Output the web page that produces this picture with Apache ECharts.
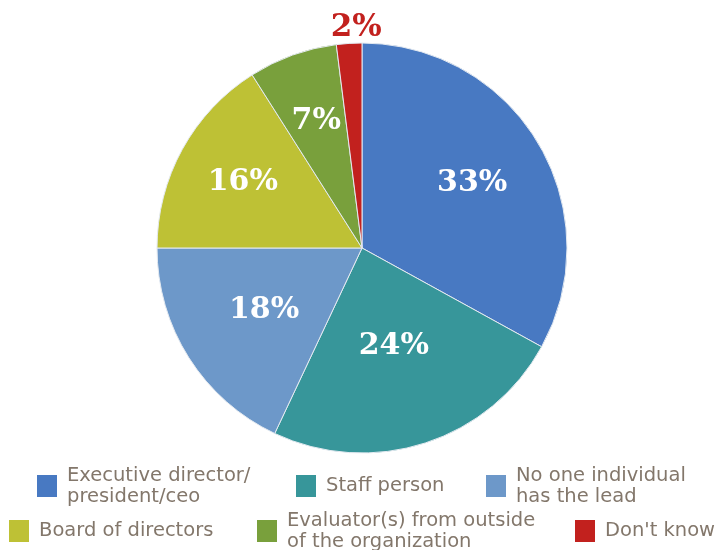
<!DOCTYPE html>
<html>
<head>
<meta charset="utf-8">
<script src="https://cdn.jsdelivr.net/npm/echarts@6/dist/echarts.min.js"></script>
<style>html,body{margin:0;padding:0;background:#fff}#c{width:715px;height:550px}</style>
</head>
<body>
<div id="c"></div>
<script>
const categories = ['Executive director/president/ceo', 'Staff person', 'No one individual has the lead', 'Board of directors', 'Evaluator(s) from outside of the organization', "Don't know"];
const legendLabels = ['Executive director/\npresident/ceo', 'Staff person', 'No one individual\nhas the lead', 'Board of directors', 'Evaluator(s) from outside\nof the organization', "Don't know"];
const values = [33, 24, 18, 16, 7, 2];
const colors = ['#4879c2', '#37969a', '#6d98c9', '#bec135', '#79a03c', '#c2211e'];

// style: radial distance of each percentage label from the pie centre (px)
const labelDist = [125, 100, 113, 133, 132, 217];
const labelOutside = [false, false, false, false, false, true];

const chart = echarts.init(document.getElementById('c'), null, {renderer: 'canvas'});
const center = [362, 248];
const R = 205;

const mainData = categories.map((n, i) => ({name: n, value: values[i], itemStyle: {color: colors[i]}}));

// one transparent ring per label so each label sits at its own radius
const labelSeries = values.map((v, k) => {
  const d = labelDist[k];
  const out = labelOutside[k];
  const r0 = out ? d - 10 : 2 * d - R;
  const r1 = out ? d + 10 : R;
  return {
    type: 'pie', center: center, radius: [r0, r1], startAngle: 90, clockwise: true,
    silent: true, emphasis: {disabled: true},
    itemStyle: {color: 'rgba(0,0,0,0)'},
    labelLine: {show: false},
    label: {show: false},
    data: values.map((vv, i) => ({
      name: 'lbl' + k + '_' + i, value: vv,
      label: i === k ? {
        show: true, position: 'inside', formatter: '{c}%',
        color: out ? colors[i] : '#ffffff',
        fontFamily: 'DejaVu Serif', fontWeight: 'bold',
        fontSize: out ? 31 : 30,
        padding: out ? [0, 0, 0, 16] : 0
      } : {show: false}
    }))
  };
});

// legend layout: [left, top]
const legendPos = [[37, 465], [296, 475], [486, 465], [9, 520], [257, 510], [575, 520]];
const legends = categories.map((n, i) => ({
  data: [n],
  left: legendPos[i][0],
  top: legendPos[i][1],
  padding: 0,
  orient: 'horizontal',
  icon: 'rect',
  itemWidth: 20,
  itemHeight: 22,
  itemStyle: {borderWidth: 0},
  selectedMode: false,
  formatter: () => legendLabels[i],
  textStyle: {fontFamily: 'DejaVu Sans', fontSize: 19.5, color: '#83776b', lineHeight: 21, padding: [0, 0, 0, 5]}
}));

chart.setOption({
  animation: false,
  backgroundColor: '#ffffff',
  legend: legends,
  series: [
    {
      type: 'pie', center: center, radius: [0, R], startAngle: 90, clockwise: true,
      label: {show: false}, labelLine: {show: false},
      emphasis: {disabled: true}, silent: true,
      itemStyle: {borderColor: '#e4eaf1', borderWidth: 1},
      data: mainData
    }
  ].concat(labelSeries)
});
</script>
</body>
</html>
